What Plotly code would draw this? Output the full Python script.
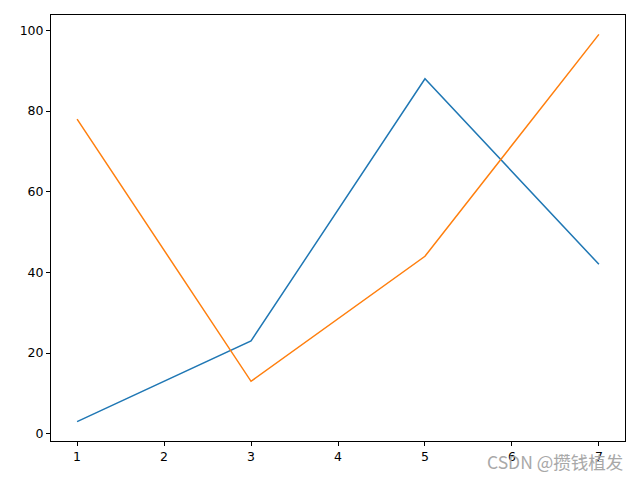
import plotly.graph_objects as go

x_vals = [1, 3, 5, 7]
series_a = [3, 23, 88, 42]
series_b = [78, 13, 44, 99]
x_ticks = [1, 2, 3, 4, 5, 6, 7]
y_ticks = [0, 20, 40, 60, 80, 100]

fig = go.Figure()
fig.add_trace(go.Scatter(x=x_vals, y=series_a, mode="lines",
                         line=dict(color="#1f77b4", width=1.5)))
fig.add_trace(go.Scatter(x=x_vals, y=series_b, mode="lines",
                         line=dict(color="#ff7f0e", width=1.5)))

axis_common = dict(showgrid=False, zeroline=False, showline=True, linecolor="black",
                   linewidth=1, mirror=True, ticks="outside", ticklen=4,
                   tickcolor="black", tickfont=dict(family="DejaVu Sans", size=12.5, color="black"))
fig.update_xaxes(range=[0.7, 7.3], tickvals=x_ticks, **axis_common)
fig.update_yaxes(range=[-1.8, 103.8], tickvals=y_ticks, **axis_common)

fig.add_annotation(text="CSDN @攒钱植发", xref="paper", yref="paper",
                   x=1.0, y=-0.049, xanchor="right", yanchor="middle", showarrow=False,
                   font=dict(family="Noto Sans CJK SC, DejaVu Sans", size=17.5, color="#a8a8a8"))

fig.update_layout(width=640, height=480, showlegend=False,
                  plot_bgcolor="white", paper_bgcolor="white",
                  margin=dict(l=43, r=23, t=7, b=47, autoexpand=False))
fig.write_html("out.html")
